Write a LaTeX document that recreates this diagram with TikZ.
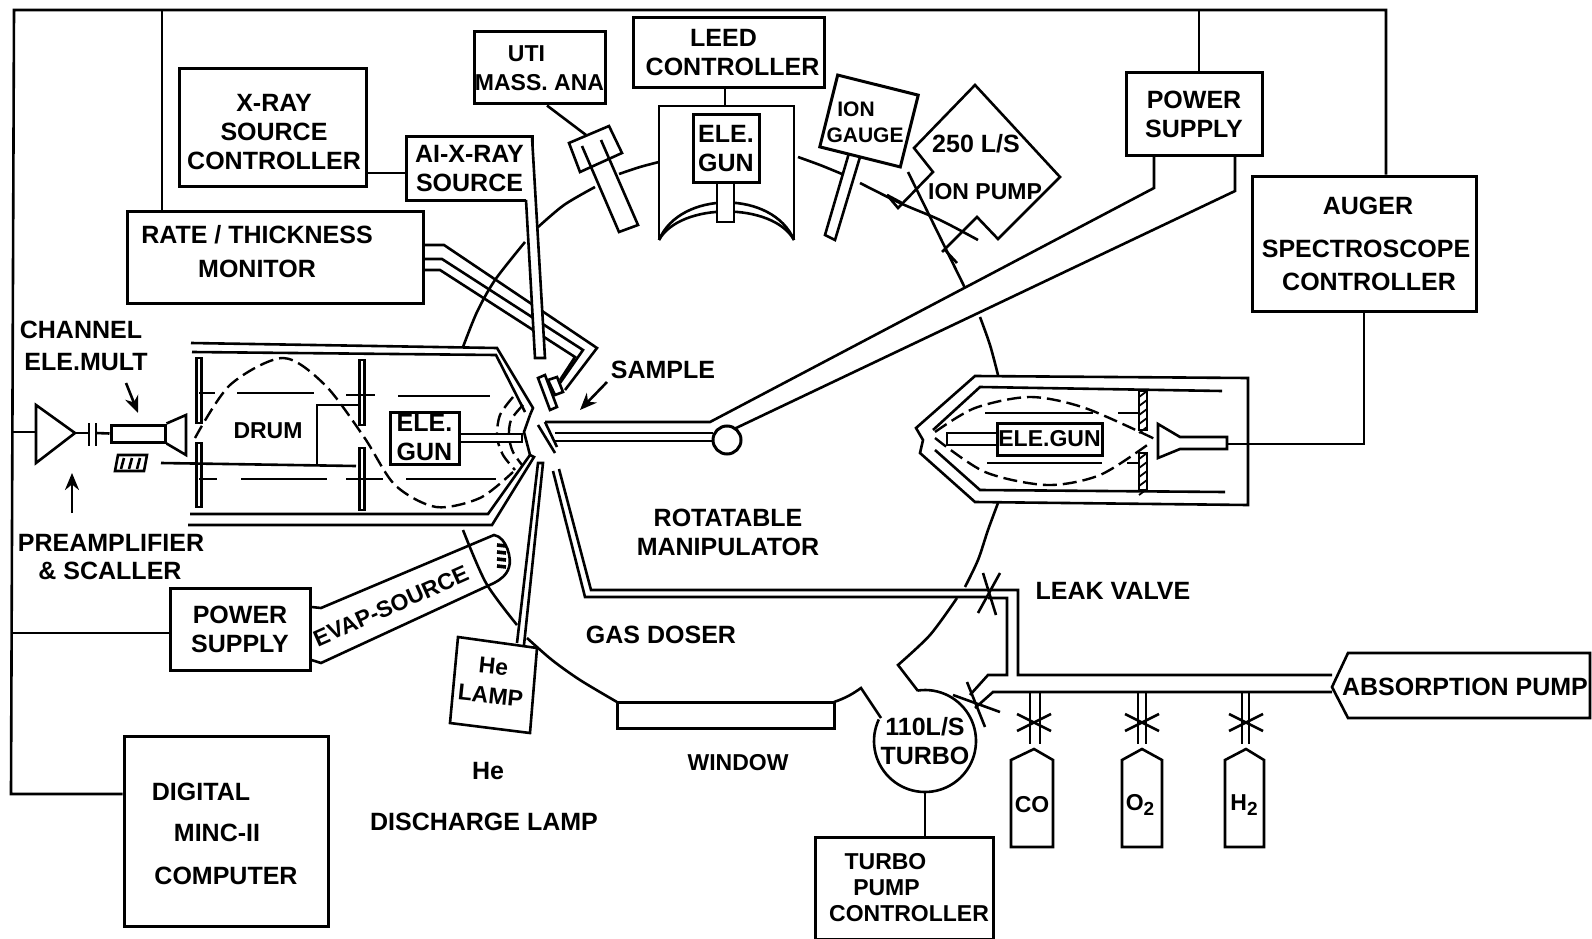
\documentclass[tikz,border=0pt]{standalone}
\usepackage{fontspec}
\setmainfont{Liberation Sans}
\usepackage{tikz}
\usetikzlibrary{arrows.meta,positioning,calc}

\newcommand{\lowtwo}{\raisebox{-5pt}{\fontsize{19}{19}\selectfont 2}}

\begin{document}
\begin{tikzpicture}[
  x=1pt,
  y=-1pt,
  wire/.style={black, line width=2.6pt},
  thin wire/.style={black, line width=1.8pt},
  dashwire/.style={black, line width=2.4pt, dash pattern=on 14pt off 6pt},
  tube/.style={black, line width=2.6pt, fill=white},
  box/.style={draw=black, line width=3pt, fill=white, align=center, inner sep=0pt},
  label/.style={font=\fontsize{25}{29}\selectfont\bfseries, align=center, inner sep=0pt},
  smalllabel/.style={font=\fontsize{23}{29}\selectfont\bfseries, align=center, inner sep=0pt},
  pointer/.style={black, line width=2.6pt, -{Stealth[length=17pt,width=14pt]}}
]
  \useasboundingbox (0,0) rectangle (1592,939);

  % control boxes
  \node[box, minimum width=187, minimum height=117] (xray) at (272.5,127.5) {};
  \node[label] (xraytext) at (274,132) {X-RAY\\SOURCE\\CONTROLLER};
  \node[box, label, minimum width=126, minimum height=63] (alsrc) at (469.5,168.5) {AI-X-RAY\\SOURCE};
  \node[box, smalllabel, minimum width=131, minimum height=72] (uti) at (539.5,68) {\hspace*{-26pt}UTI\\MASS. ANA};
  \node[box, label, minimum width=191, minimum height=70] (leed) at (728.5,53) {\hspace*{-10pt}LEED\\\hspace*{8pt}CONTROLLER};
  \node[box, minimum width=296, minimum height=92] (rate) at (275,257) {};
  \node[label] (ratetext) at (257,252) {RATE / THICKNESS\\[5pt]MONITOR};
  \node[box, label, minimum width=136, minimum height=82] (psright) at (1194,114) {POWER\\SUPPLY};
  \node[box, label, minimum width=224, minimum height=135] (auger) at (1364,243.5) {\hspace*{8pt}AUGER\\[14pt]\hspace*{4pt}SPECTROSCOPE\\[4pt]\hspace*{10pt}CONTROLLER};
  \node[box, label, minimum width=140, minimum height=82] (psleft) at (240,629) {POWER\\SUPPLY};
  \node[box, minimum width=204, minimum height=190] (minc) at (226,831) {};
  \node[label] (minctext) at (226,834) {\hspace*{-50pt}DIGITAL\\[12pt]\hspace*{-18pt}MINC-II\\[14pt]COMPUTER};
  \node[box, smalllabel, minimum width=178, minimum height=102] (tpc) at (904,888) {\hspace*{-37pt}TURBO\\[-3pt]\hspace*{-35pt}PUMP\\[-3pt]\hspace*{10pt}CONTROLLER};

  % bus
  \coordinate (bustl) at (14,10);
  \coordinate (bustr) at (1386,10);
  \coordinate (busbl) at (11,794);
  \coordinate (busa) at (162,10);
  \coordinate (busb) at (1199,10);
  \coordinate (busc) at (11,432);
  \coordinate (busd) at (12,633);
  \draw[wire] (auger.north -| bustr) -- (bustr) -- (bustl) -- (busbl) -- (busbl -| minc.west);
  \draw[wire] (busa) -- (busa |- rate.north);
  \draw[wire] (busb) -- (busb |- psright.north);
  \draw[wire] (busd) -- (busd -| psleft.west);
  \coordinate (xl) at (406,173);
  \draw[wire] (xl) -- (xl -| xray.east);

  % chamber
  \draw[wire] plot[smooth] coordinates {(537,228) (564,205) (595,187)};
  \draw[wire] plot[smooth] coordinates {(619,174) (640,167) (659,162)};
  \draw[wire] plot[smooth] coordinates {(525,242) (495,280) (477,312) (463,347)};
  \draw[wire] plot[smooth] coordinates {(463,530) (486,583) (517,625)};
  \draw[wire] plot[smooth] coordinates {(527,638) (552,660) (580,680) (617,702)};
  \draw[wire] (834,702) to[bend right=8] (861,688) -- (881,718);
  \draw[wire] plot[smooth] coordinates {(798,157) (820,165) (842,174)};
  \draw[wire] plot[smooth] coordinates {(860,183) (900,203) (940,220) (978,240)};
  \draw[wire] plot[smooth] coordinates {(980,317) (990,345) (998,375)};
  \draw[wire] plot[smooth] coordinates {(998,503) (988,530) (978,560) (965,587)};
  \draw[wire] plot[smooth] coordinates {(957,598) (930,635) (898,665)} -- (918,691);

  % turbo
  \draw[wire] plot[domain=262:565, samples=70] ({925+51*cos(\x)},{741+51*sin(\x)});
  \node[label, circle, minimum size=102] (turbo) at (925,741) {110L/S\\TURBO};
  \draw[wire] (turbo.south) -- (turbo.south |- tpc.north);

  % rate monitor feed
  \draw[wire] (rate.east |- 0,245) -- (444,245) -- (597,348) -- (565,390);
  \draw[wire] (rate.east |- 0,259) -- (442,259) -- (583,350) -- (560,383);
  \draw[wire] (rate.east |- 0,270) -- (440,270) -- (575,357) -- (560,380);
  \draw[tube] (548,380) -- (557,377) -- (563,392) -- (555,395) -- cycle;
  \draw[tube] (538,378) -- (545,375) -- (557,407) -- (550,410) -- cycle;

  % x-ray source pipe
  \draw[tube] (526,200) -- (535,358) -- (545,358) -- (532,137);

  % mass analyser
  \draw[wire] (uti.south -| 547,0) -- (586,135);
  \draw[tube] (582,146) -- (619,232) -- (638,225) -- (601,140);
  \draw[wire] (569,143) -- (609,126) -- (622,153) -- (580,172) -- cycle;

  % leed gun
  \coordinate (leedtop) at (725,106);
  \draw[wire] (leedtop) -- (leedtop |- leed.south);
  \draw[wire] (659,240) -- (659,106) -- (794,106) -- (794,240);
  \draw[wire] (659,240) .. controls (680,190) and (773,190) .. (794,240);
  \draw[wire] (659,240) .. controls (680,202) and (773,202) .. (794,240);
  \draw[tube] (717,182) -- (717,222) -- (734,222) -- (734,182);
  \node[box, label, minimum width=66, minimum height=67] (leedgun) at (726,148.5) {ELE.\\GUN};

  % ion gauge
  \draw[wire, fill=white] (849,153) -- (825,235) -- (835,240) -- (860,157);
  \node[draw=black, line width=3pt, fill=white, minimum width=83, minimum height=74, rotate=-14, inner sep=0pt] (gauge) at (869,121) {};
  \node[smalllabel, font=\fontsize{21}{25}\selectfont\bfseries] (gaugea) at (856,109) {ION};
  \node[smalllabel, font=\fontsize{21}{25}\selectfont\bfseries] (gaugeb) at (865,135) {GAUGE};

  % ion pump
  \draw[wire] (887,195) -- (898,208) -- (933,172) -- (914,148) -- (975,85) -- (1060,177) -- (998,239) -- (977,217) -- (942,252);
  \draw[wire] (887,195) -- (902,203);
  \draw[wire] (908,172) -- (965,288);
  \draw[wire] (945,250) -- (957,263);
  \node[label] (pump) at (976,144) {250 L/S};
  \node[smalllabel] (pumpb) at (985,192) {ION PUMP};

  % manipulator
  \draw[wire] (psright.south -| 1154,0) -- (1154,188) -- (710,422) -- (545,422);
  \draw[wire] (psright.south -| 1235,0) -- (1235,191) -- (734,429);
  \draw[wire] (555,433) -- (713,433);
  \draw[wire] (555,441) -- (713,441);
  \draw[wire] (538,425) -- (555,453);
  \draw[wire] (545,422) -- (557,447);
  \node[circle, draw=black, line width=3pt, fill=white, minimum size=28, inner sep=0pt] (ball) at (727,440) {};

  % left analyser
  \draw[wire] (191,343) -- (497,348) -- (533,408) -- (530,415);
  \draw[wire] (192,352) -- (496,355) -- (525,412);
  \draw[wire] (188,525) -- (492,525) -- (534,457) -- (530,455);
  \draw[wire] (190,514) -- (488,514) -- (530,455);
  \draw[wire] (530,415) -- (524,432) -- (530,455);
  \foreach \x/\ya/\yb in {199/358/423, 199/443/507, 362/360/425, 362/448/510} {
    \draw[wire, fill=white] (\x-2.5,\ya) rectangle (\x+2.5,\yb);
  }
  \foreach \xa/\xb/\y in {199/215/393, 237/314/393, 346/375/395, 398/490/396, 199/217/479, 241/327/479, 346/383/479, 406/496/479} {
    \draw[wire] (\xa,\y) -- (\xb,\y);
  }
  \draw[wire] (161,463) -- (356,466);
  \draw[wire] (360,405) -- (317,405) -- (317,466);
  \draw[dashwire] plot[smooth] coordinates {(195,438) (230,385) (283,358) (325,385) (364,437) (395,485) (436,507) (480,498) (513,472)};
  \draw[dashwire] plot[smooth] coordinates {(513,397) (500,415) (497,437) (503,455) (515,470)};
  \draw[dashwire] plot[smooth] coordinates {(523,405) (511,420) (509,437) (513,452) (522,465)};
  \draw[tube] (459,434) -- (522,434) -- (522,442) -- (459,442);
  \node[box, label, minimum width=69, minimum height=52] (gunleft) at (424.5,438) {ELE.\\GUN};
  \node[smalllabel] (drum) at (268,431) {DRUM};

  % detector and preamplifier
  \node[draw=black, line width=3pt, fill=white, minimum width=54, minimum height=17, inner sep=0pt] (tubeb) at (138,433.5) {};
  \draw[wire] (tubeb.north east) -- (186,415) -- (186,455) -- (tubeb.south east);
  \coordinate (ampin) at (36,432);
  \draw[wire] (busc) -- (ampin);
  \draw[wire] (36,405) -- (36,463) -- (75,433) -- cycle;
  \draw[wire] (75,433) -- (89,433);
  \draw[wire] (89,423) -- (89,446);
  \draw[wire] (96,423) -- (96,446);
  \draw[wire] (96,433) -- (tubeb.west);
  \draw[wire] (118,455) -- (147,455) -- (144,471) -- (115,471) -- cycle;
  \foreach \x in {124,132,140} {
    \draw[wire] (\x,458) -- (\x-3,469);
  }
  \draw[pointer] (126,383) -- (138,413);
  \draw[pointer] (72,513) -- (72,473);
  \draw[pointer] (607,382) -- (580,410);

  % evap source
  \draw[wire] (psleft.east |- 0,607) -- (321,608) -- (494,535) .. controls (507,537) and (512,560) .. (509,567) .. controls (507,575) and (500,580) .. (494,583) -- (321,663) -- (psleft.east |- 0,660);
  \foreach \y in {545,552,559,566} {
    \draw[line width=3.6pt] (497,\y) -- (506,\y+1);
  }
  \node[smalllabel, rotate=24] (evap) at (391,606) {EVAP-SOURCE};

  % he lamp
  \draw[tube] (517,643) -- (538,463) -- (543,463) -- (524,645);
  \draw[wire, fill=white] (458,637) -- (537,648) -- (530,733) -- (450,723) -- cycle;
  \node[smalllabel, rotate=-6] (lamp) at (492,681) {He\\LAMP};

  % gas doser and pump line
  \draw[wire] (553,471) -- (585,597) -- (988,597);
  \draw[wire] (559,469) -- (591,590) -- (1018,590) -- (1018,675) -- (1332,675);
  \draw[wire] (988,598) -- (1007,598) -- (1007,675) -- (988,675) -- (970,695);
  \draw[wire] (975,708) -- (993,692) -- (1332,692);
  \draw[wire] (983,573) -- (996,615);
  \draw[wire] (1000,573) -- (978,613);
  \draw[wire] (967,682) -- (985,727);
  \draw[wire] (953,695) -- (1000,712);

  % gas bottles
  \foreach \cx/\sa/\sb/\lft/\rgt/\gas in {1034/1030/1040/1011/1053/CO, 1142/1138/1146/1122/1162/O\lowtwo, 1246/1242/1249/1225/1264/H\lowtwo} {
    \draw[wire] (\sa,692) -- (\sa,744);
    \draw[wire] (\sb,692) -- (\sb,744);
    \draw[wire] (\cx-17,714) -- (\cx+17,731);
    \draw[wire] (\cx-17,731) -- (\cx+17,714);
    \draw[wire] (\lft,847) -- (\lft,760) -- (\cx,749) -- (\rgt,760) -- (\rgt,847) -- cycle;
    \node[smalllabel] (gas\cx) at (\cx-2,805) {\gas};
  }

  % absorption pump
  \draw[wire, fill=white] (1590,653) -- (1348,653) -- (1332,687) -- (1348,718) -- (1590,718) -- cycle;
  \node[label] (absorb) at (1465,687) {ABSORPTION PUMP};

  % auger analyser
  \draw[wire] (975,376) -- (1248,378) -- (1248,505) -- (975,502) -- (920,453) -- (923,440) -- (916,428) -- cycle;
  \draw[wire] (933,430) -- (980,387) -- (1222,391);
  \draw[wire] (935,450) -- (980,490) -- (1225,492);
  \foreach \ya/\yb in {391/430, 453/490} {
    \draw[wire, fill=white] (1139,\ya) rectangle (1147,\yb);
    \foreach \y in {\ya,...,\yb} {
      \pgfmathparse{int(mod(\y-\ya,9))}
      \ifnum\pgfmathresult=0 \draw[thin wire] (1139,\y+6) -- (1147,\y); \fi
    }
  }
  \foreach \xa/\xb/\y in {985/1093/413, 1118/1140/413, 987/1102/463, 1127/1140/463} {
    \draw[wire] (\xa,\y) -- (\xb,\y);
  }
  \draw[dashwire] plot[smooth] coordinates {(935,432) (975,408) (1030,397) (1085,408) (1157,440)};
  \draw[dashwire] plot[smooth] coordinates {(935,438) (985,472) (1047,485) (1100,475) (1150,443)};
  \draw[tube] (947,433) rectangle (997,445);
  \node[box, smalllabel, minimum width=105, minimum height=32] (gunright) at (1049.5,439) {ELE.GUN};
  \draw[wire, fill=white] (1158,424) -- (1180,437) -- (1227,437) -- (1227,449) -- (1180,449) -- (1158,458) -- cycle;
  \coordinate (hornend) at (1227,444);
  \draw[wire] (hornend) -- (hornend -| auger.south) -- (auger.south);

  % free labels
  \node[label] (channel) at (81,330) {CHANNEL};
  \node[label] (mult) at (86,362) {ELE.MULT};
  \node[label] (preamp) at (111,543) {PREAMPLIFIER};
  \node[label] (scaller) at (110,571) {\& SCALLER};
  \node[label] (sample) at (663,370) {SAMPLE};
  \node[label] (rotate) at (728,532) {ROTATABLE\\MANIPULATOR};
  \node[label] (leak) at (1113,591) {LEAK VALVE};
  \node[label] (doser) at (661,635) {GAS DOSER};
  \node[smalllabel] (window) at (738,763) {WINDOW};
  \node[label] (he) at (488,771) {He};
  \node[label] (discharge) at (484,822) {DISCHARGE LAMP};
  \node[draw=black, line width=3pt, minimum width=217, minimum height=26, inner sep=0pt] (winbox) at (725.5,715) {};
\end{tikzpicture}
\end{document}
